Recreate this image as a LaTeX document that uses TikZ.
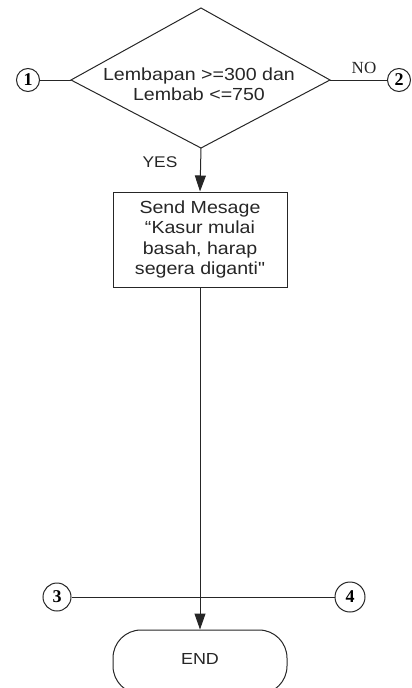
\documentclass[tikz,border=0pt]{standalone}
\usepackage{fontspec}
\setmainfont{Liberation Serif}
\newfontfamily\lab[FakeStretch=1.12]{Liberation Sans}
\usetikzlibrary{arrows.meta}
\begin{document}
\begin{tikzpicture}[x=1pt,y=-1pt,
  line/.style={draw=black!85,line width=1pt},
  arr/.style={line,-{Triangle[length=16pt,width=11pt]}},
  conn/.style={circle,draw=black!85,line width=1pt,inner sep=0pt,minimum size=23pt,font=\bfseries\fontsize{18}{18}\selectfont},
  txt/.style={font=\lab\fontsize{17.5}{20.5}\selectfont,text=black!85,align=center},
  procbox/.style={rectangle,draw=black!85,line width=1pt,minimum width=174pt,minimum height=95pt,inner sep=0pt},
  termbox/.style={rectangle,rounded corners=28pt,draw=black!85,line width=1pt,minimum width=174pt,minimum height=64pt,inner sep=0pt}]
\useasboundingbox (0,0) rectangle (412,688);
\clip (0,0) rectangle (412,688);
% decision
\coordinate (dt) at (201,8);
\coordinate (dr) at (330,80);
\coordinate (db) at (201,148);
\coordinate (dl) at (71,80);
\draw[line] (dt) -- (dr) -- (db) -- (dl) -- cycle;
\node[txt] (q) at (199,84) {Lembapan >=300 dan\\Lembab <=750};
\node[conn] (c1) at (28,80) {1};
\node[conn] (c2) at (399,80) {2};
\draw[line] (c1) -- (dl);
\draw[line] (dr) -- (c2);
\node[font=\fontsize{17}{17}\selectfont,text=black!85] (no) at (364,68) {NO};
\node[font=\lab\fontsize{15.5}{16}\selectfont,text=black!85] (yes) at (160,162) {YES};
% process
\node[procbox,txt] (p) at (200,239.5) {Send Mesage\\\char"201C Kasur mulai\\basah, harap\\segera diganti"};
\draw[arr] (db) -- (p.north);
% end
\node[termbox] (e) at (200,662) {};
\node[font=\lab\fontsize{16}{16}\selectfont,text=black!85] (et) at (200,659) {END};
\draw[arr] (p.south) -- (e.north);
% connectors 3 and 4
\node[conn,minimum size=28pt] (c3) at (57,597) {3};
\node[conn,minimum size=30pt] (c4) at (350,597) {4};
\draw[line] (c3) -- (c4);
\end{tikzpicture}
\end{document}
